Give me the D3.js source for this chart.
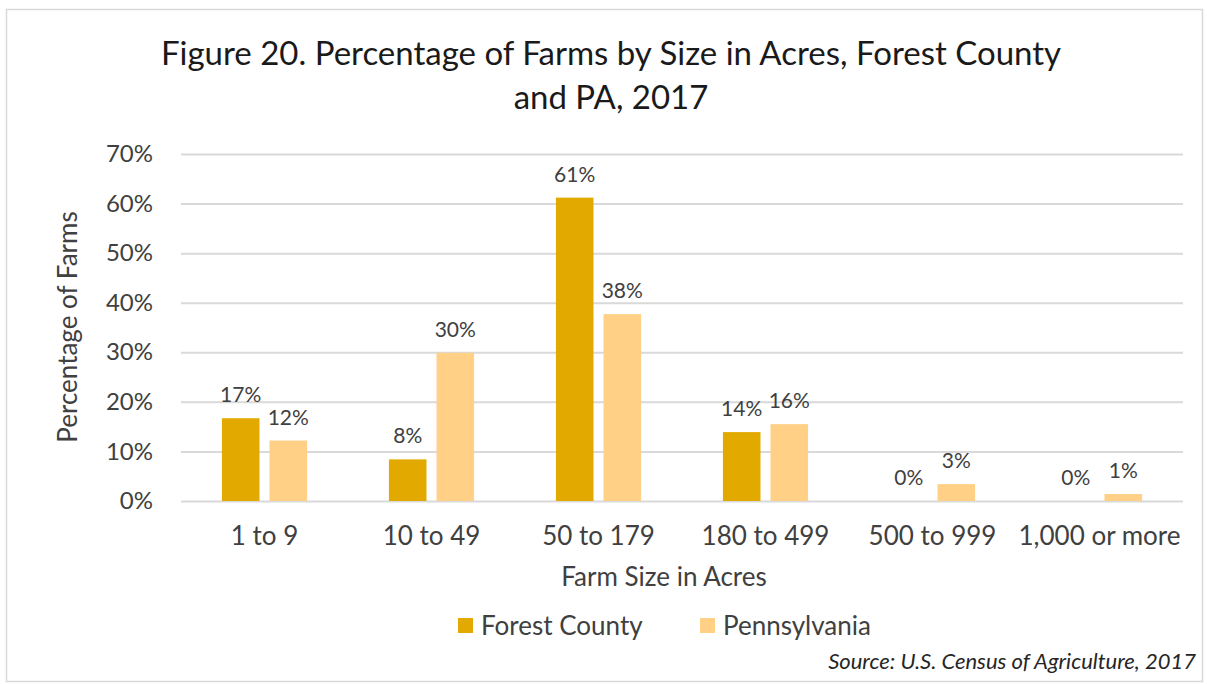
<!DOCTYPE html>
<html>
<head>
<meta charset="utf-8">
<script src="https://cdn.jsdelivr.net/npm/d3@7"></script>
<style>
  body { margin: 0; background: #fff; }
  text { font-family: Lato, "Open Sans", sans-serif; }
</style>
</head>
<body>
<svg id="chart"></svg>
<script>
let categories = ["1 to 9", "10 to 49", "50 to 179", "180 to 499", "500 to 999", "1,000 or more"];
let seriesNames = ["Forest County", "Pennsylvania"];
let forestValues = [0.167, 0.084, 0.612, 0.139, 0, 0];
let paValues = [0.122, 0.299, 0.377, 0.155, 0.034, 0.014];
let yTicks = [0, 0.1, 0.2, 0.3, 0.4, 0.5, 0.6, 0.7];
let colors = ["#e2aa00", "#ffd085"];

let config = { svg: {}, plot: {} };
config.svg.width = 1207;
config.svg.height = 684;
config.plot.x = 181;
config.plot.y = 154;
config.plot.width = 1002;
config.plot.height = 347;

let svg = d3.select("svg#chart")
  .attr("width", config.svg.width)
  .attr("height", config.svg.height);

// outer border
svg.append("rect")
  .attr("x", 6.5).attr("y", 9.5)
  .attr("width", 1196).attr("height", 672)
  .attr("fill", "none")
  .attr("stroke", "#d9d9d9")
  .attr("stroke-width", 1.5);

let plot = svg.append("g")
  .attr("transform", translate(config.plot.x, config.plot.y));

let scale = {};
scale.x = d3.scaleBand()
  .domain(categories)
  .range([0, config.plot.width])
  .paddingInner(0.49)
  .paddingOuter(0.245);

scale.series = d3.scaleBand()
  .domain(seriesNames)
  .range([0, scale.x.bandwidth()])
  .paddingInner(0.21);

scale.y = d3.scaleLinear()
  .domain([0, 0.7])
  .range([config.plot.height, 0]);

let pct = d3.format(".0%");

// gridlines
let axisY = d3.axisLeft(scale.y)
  .tickValues(yTicks)
  .tickFormat(pct)
  .tickSize(-config.plot.width)
  .tickPadding(28);

let gy = plot.append("g").call(axisY);
gy.select(".domain").remove();
gy.selectAll(".tick line").attr("stroke", "#d9d9d9").attr("stroke-width", 2);
gy.selectAll(".tick text")
  .attr("font-size", "24px")
  .attr("fill", "#404040")
  .style("font-family", "Lato, sans-serif");

// x axis labels
let axisX = d3.axisBottom(scale.x).tickSize(0).tickPadding(26);
let gx = plot.append("g")
  .attr("transform", translate(0, config.plot.height))
  .call(axisX);
gx.select(".domain").remove();
gx.selectAll(".tick text")
  .attr("font-size", "26px")
  .attr("fill", "#404040")
  .style("font-family", "Lato, sans-serif");

let data = categories.map((c, i) => ({
  category: c,
  values: [
    { name: seriesNames[0], value: forestValues[i], color: colors[0] },
    { name: seriesNames[1], value: paValues[i], color: colors[1] }
  ]
}));

let groups = plot.selectAll("g.group")
  .data(data)
  .enter()
  .append("g")
  .attr("class", "group")
  .attr("transform", d => translate(scale.x(d.category), 0));

groups.selectAll("rect")
  .data(d => d.values)
  .enter()
  .append("rect")
  .attr("x", d => scale.series(d.name))
  .attr("y", d => scale.y(d.value))
  .attr("width", scale.series.bandwidth())
  .attr("height", d => config.plot.height - scale.y(d.value))
  .attr("fill", d => d.color);

groups.selectAll("text.label")
  .data(d => d.values)
  .enter()
  .append("text")
  .attr("class", "label")
  .attr("x", d => scale.series(d.name) + scale.series.bandwidth() / 2)
  .attr("y", d => scale.y(d.value) - 16)
  .attr("text-anchor", "middle")
  .attr("font-size", "21px")
  .attr("fill", "#404040")
  .text(d => pct(d.value));

drawTitles();
drawLegend();

function drawTitles() {
  let title = svg.append("text")
    .attr("text-anchor", "middle")
    .attr("font-size", "33px")
    .attr("fill", "#1a1a1a");
  title.append("tspan").attr("x", 611).attr("y", 65)
    .text("Figure 20. Percentage of Farms by Size in Acres, Forest County");
  title.append("tspan").attr("x", 611).attr("y", 109)
    .text("and PA, 2017");

  svg.append("text")
    .text("Farm Size in Acres")
    .attr("x", 664)
    .attr("y", 586)
    .attr("text-anchor", "middle")
    .attr("font-size", "26px")
    .attr("fill", "#404040");

  svg.append("text")
    .text("Percentage of Farms")
    .attr("transform", translate(77, 327) + " rotate(-90)")
    .attr("text-anchor", "middle")
    .attr("font-size", "26px")
    .attr("fill", "#404040");

  svg.append("text")
    .text("Source: U.S. Census of Agriculture, 2017")
    .attr("x", 1196)
    .attr("y", 669)
    .attr("text-anchor", "end")
    .attr("font-size", "22px")
    .attr("font-style", "italic")
    .attr("fill", "#262626");
}

function drawLegend() {
  let legendX = [458, 700];
  let legend = svg.append("g");
  let items = legend.selectAll("g")
    .data(seriesNames)
    .enter()
    .append("g")
    .attr("transform", (d, i) => translate(legendX[i], 618));
  items.append("rect")
    .attr("width", 15)
    .attr("height", 15)
    .attr("fill", (d, i) => colors[i]);
  items.append("text")
    .attr("x", 23)
    .attr("y", 17)
    .attr("font-size", "26px")
    .attr("fill", "#404040")
    .text(d => d);
}

function translate(x, y) {
  return "translate(" + x + "," + y + ")";
}
</script>
</body>
</html>
